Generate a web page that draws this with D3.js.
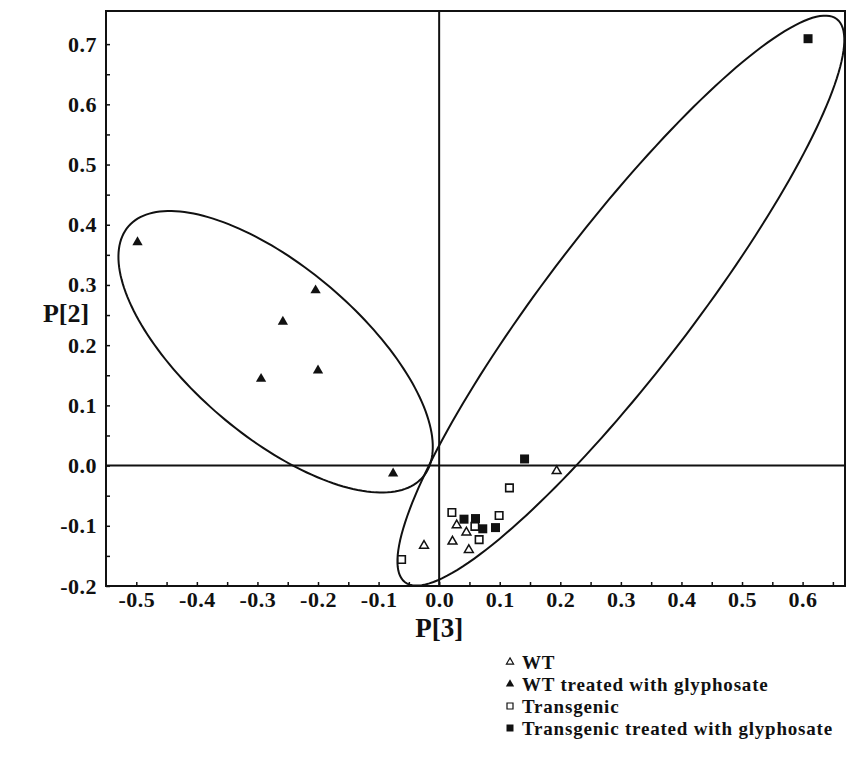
<!DOCTYPE html>
<html>
<head>
<meta charset="utf-8">
<script src="https://cdn.jsdelivr.net/npm/d3@7"></script>
<style>
  html, body { margin: 0; padding: 0; background: #fff; }
  svg { display: block; font-family: "Liberation Serif", "Times New Roman", serif; }
</style>
</head>
<body>
<svg id="chart" width="850" height="766"></svg>
<script>
// Scores [P3, P2] per group
const wtPoints = [
  [0.194, -0.009], [0.029, -0.099], [0.045, -0.111],
  [0.022, -0.126], [0.049, -0.140], [-0.025, -0.133]
];
const wtTreatedPoints = [
  [-0.498, 0.371], [-0.204, 0.291], [-0.258, 0.239],
  [-0.294, 0.144], [-0.200, 0.158], [-0.076, -0.013]
];
const transgenicPoints = [
  [0.116, -0.037], [0.021, -0.078], [0.099, -0.083],
  [0.059, -0.101], [0.066, -0.123], [-0.062, -0.156]
];
const transgenicTreatedPoints = [
  [0.609, 0.709], [0.141, 0.011], [0.041, -0.089],
  [0.060, -0.088], [0.072, -0.105], [0.093, -0.103]
];

// Confidence ellipses: [centerP3, centerP2], [semi-major, semi-minor], angle (deg)
const ellipseCenters = [[-0.270, 0.189], [0.300, 0.274]];
const ellipseRadii = [[0.320, 0.140], [0.588, 0.120]];
const ellipseAngles = [-40.6, 52.7];

const xMajorTicks = [-0.5, -0.4, -0.3, -0.2, -0.1, 0.0, 0.1, 0.2, 0.3, 0.4, 0.5, 0.6];
const xMinorTicks = [-0.45, -0.35, -0.25, -0.15, -0.05, 0.05, 0.15, 0.25, 0.35, 0.45, 0.55, 0.65];
const yMajorTicks = [-0.2, -0.1, 0.0, 0.1, 0.2, 0.3, 0.4, 0.5, 0.6, 0.7];
const yMinorTicks = [-0.15, -0.05, 0.05, 0.15, 0.25, 0.35, 0.45, 0.55, 0.65];

const legendLabels = ['WT', 'WT treated with glyphosate', 'Transgenic', 'Transgenic treated with glyphosate'];

const margin = { left: 106, right: 5, top: 11, bottom: 180 };
const width = 850, height = 766;

const svg = d3.select('#chart');

const x = d3.scaleLinear().domain([-0.55, 0.67]).range([margin.left, width - margin.right]);
const y = d3.scaleLinear().domain([-0.2, 0.755]).range([height - margin.bottom, margin.top]);

const fmt = d => d.toFixed(1);

svg.append('defs').append('clipPath').attr('id', 'plot-clip')
  .append('rect')
  .attr('x', x.range()[0]).attr('y', y.range()[1])
  .attr('width', x.range()[1] - x.range()[0])
  .attr('height', y.range()[0] - y.range()[1]);

// Zero lines
svg.append('line')
  .attr('x1', x(0)).attr('x2', x(0))
  .attr('y1', y.range()[0]).attr('y2', y.range()[1])
  .attr('stroke', '#111').attr('stroke-width', 2);
svg.append('line')
  .attr('x1', x.range()[0]).attr('x2', x.range()[1])
  .attr('y1', y(0)).attr('y2', y(0))
  .attr('stroke', '#111').attr('stroke-width', 2);

// Ellipses
const ellipseLine = d3.line().x(d => x(d[0])).y(d => y(d[1])).curve(d3.curveLinearClosed);
const ellG = svg.append('g').attr('clip-path', 'url(#plot-clip)');
ellipseCenters.forEach((c, i) => {
  const [a, b] = ellipseRadii[i];
  const th = ellipseAngles[i] * Math.PI / 180;
  const pts = d3.range(0, 2 * Math.PI, Math.PI / 90).map(t => [
    c[0] + a * Math.cos(t) * Math.cos(th) - b * Math.sin(t) * Math.sin(th),
    c[1] + a * Math.cos(t) * Math.sin(th) + b * Math.sin(t) * Math.cos(th)
  ]);
  ellG.append('path')
    .attr('d', ellipseLine(pts))
    .attr('fill', 'none')
    .attr('stroke', '#111')
    .attr('stroke-width', 2);
});

// Frame
svg.append('rect')
  .attr('x', x.range()[0]).attr('y', y.range()[1])
  .attr('width', x.range()[1] - x.range()[0])
  .attr('height', y.range()[0] - y.range()[1])
  .attr('fill', 'none')
  .attr('stroke', '#111')
  .attr('stroke-width', 2);

// Axes
function styleAxis(g) {
  g.select('.domain').remove();
  g.selectAll('.tick line').attr('stroke', '#111').attr('stroke-width', 1.5);
  g.selectAll('.tick text')
    .attr('fill', '#111')
    .attr('font-size', '22px')
    .attr('font-weight', 'bold')
    .attr('letter-spacing', '0.5px')
    .attr('font-family', '"Liberation Serif", "Times New Roman", serif');
}

svg.append('g')
  .attr('transform', `translate(0,${y.range()[0]})`)
  .call(d3.axisBottom(x).tickValues(xMajorTicks).tickFormat(fmt).tickSizeInner(-4).tickSizeOuter(0).tickPadding(5))
  .call(styleAxis);
svg.append('g')
  .attr('transform', `translate(0,${y.range()[0]})`)
  .call(d3.axisBottom(x).tickValues(xMinorTicks).tickFormat('').tickSizeInner(-4).tickSizeOuter(0))
  .call(styleAxis);
svg.append('g')
  .attr('transform', `translate(${x.range()[0]},0)`)
  .call(d3.axisLeft(y).tickValues(yMajorTicks).tickFormat(fmt).tickSizeInner(-4).tickSizeOuter(0).tickPadding(9))
  .call(styleAxis);
svg.append('g')
  .attr('transform', `translate(${x.range()[0]},0)`)
  .call(d3.axisLeft(y).tickValues(yMinorTicks).tickFormat('').tickSizeInner(-4).tickSizeOuter(0))
  .call(styleAxis);

// Axis titles
svg.append('text')
  .attr('x', x(0)).attr('y', 637)
  .attr('text-anchor', 'middle')
  .attr('font-size', '27px').attr('font-weight', 'bold').attr('fill', '#111')
  .text('P[3]');
svg.append('text')
  .attr('x', 66).attr('y', 322)
  .attr('text-anchor', 'middle')
  .attr('font-size', '26px').attr('font-weight', 'bold').attr('fill', '#111')
  .text('P[2]');

// Markers
const groups = [
  { pts: wtPoints, type: d3.symbolTriangle, size: 34, fill: '#fff', stroke: 1.5 },
  { pts: wtTreatedPoints, type: d3.symbolTriangle, size: 46, fill: '#111', stroke: 0 },
  { pts: transgenicPoints, type: d3.symbolSquare, size: 56, fill: '#fff', stroke: 1.6 },
  { pts: transgenicTreatedPoints, type: d3.symbolSquare, size: 81, fill: '#111', stroke: 0 }
];

groups.forEach(gr => {
  svg.append('g').selectAll('path')
    .data(gr.pts)
    .join('path')
    .attr('transform', d => `translate(${x(d[0])},${y(d[1])})`)
    .attr('d', d3.symbol(gr.type, gr.size))
    .attr('fill', gr.fill)
    .attr('stroke', gr.stroke ? '#111' : 'none')
    .attr('stroke-width', gr.stroke);
});

// Legend
const legendSizes = [22, 30, 36, 49];
const legend = svg.append('g').attr('transform', 'translate(510,0)');
const legendY = [662, 684, 706, 728];
legendLabels.forEach((lab, i) => {
  const gr = groups[i];
  legend.append('path')
    .attr('transform', `translate(0,${legendY[i]})`)
    .attr('d', d3.symbol(gr.type, legendSizes[i]))
    .attr('fill', gr.fill)
    .attr('stroke', gr.stroke ? '#111' : 'none')
    .attr('stroke-width', gr.stroke ? 1.2 : 0);
  legend.append('text')
    .attr('x', 12).attr('y', legendY[i] + 7)
    .attr('font-size', '19px').attr('font-weight', 'bold').attr('fill', '#111')
    .attr('letter-spacing', '0.8px')
    .text(lab);
});
</script>
</body>
</html>
